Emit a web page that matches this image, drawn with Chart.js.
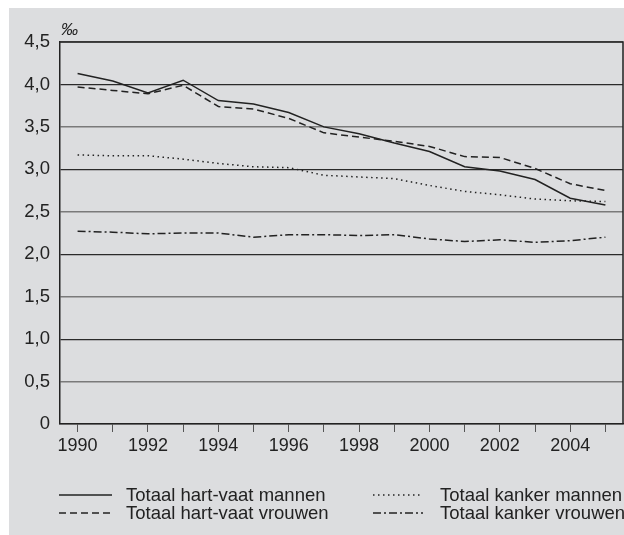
<!DOCTYPE html>
<html>
<head>
<meta charset="utf-8">
<script src="https://cdn.jsdelivr.net/npm/chart.js@4"></script>
<style>
    html, body { margin: 0; padding: 0; background: #fff; }
    #wrap { position: absolute; left: 9px; top: 8px; width: 615px; height: 527px; background: #dcdddf; }
    canvas { display: block; }
</style>
</head>
<body>
<div id="wrap"><canvas id="chart" width="615" height="527"></canvas></div>
<script>
// jaren op de x-as
var years = ["1990", "1991", "1992", "1993", "1994", "1995", "1996", "1997",
    "1998", "1999", "2000", "2001", "2002", "2003", "2004", "2005"];

// sterfte in promille
var hartVaatMannen = [4.13, 4.04, 3.90, 4.05, 3.81, 3.77, 3.67, 3.50,
    3.42, 3.31, 3.21, 3.03, 2.98, 2.88, 2.66, 2.58];
var hartVaatVrouwen = [3.97, 3.93, 3.89, 3.99, 3.74, 3.71, 3.60, 3.43,
    3.38, 3.33, 3.27, 3.15, 3.14, 3.01, 2.83, 2.75];
var kankerMannen = [3.17, 3.16, 3.16, 3.12, 3.07, 3.03, 3.02, 2.93,
    2.91, 2.89, 2.81, 2.74, 2.70, 2.65, 2.63, 2.62];
var kankerVrouwen = [2.27, 2.26, 2.24, 2.25, 2.25, 2.20, 2.23, 2.23,
    2.22, 2.23, 2.18, 2.15, 2.17, 2.14, 2.16, 2.20];

var seriesNames = ["Totaal hart-vaat mannen", "Totaal hart-vaat vrouwen",
    "Totaal kanker mannen", "Totaal kanker vrouwen"];

var ink = "#222";
var font = "'Liberation Sans', Arial, sans-serif";

function line(label, data, dash) {
    return {
        label: label,
        data: data,
        borderColor: ink,
        borderWidth: 1.5,
        borderDash: dash,
        pointRadius: 0,
        tension: 0,
        fill: false
    };
}

// rand om het plotgebied, ‰-teken en legenda onderaan
var extras = {
    id: "extras",
    afterDraw(chart) {
        var ctx = chart.ctx;
        var a = chart.chartArea;
        ctx.save();
        ctx.strokeStyle = ink;
        ctx.lineWidth = 1.5;
        ctx.beginPath();
        ctx.moveTo(a.left, a.top);
        ctx.lineTo(a.right, a.top);
        ctx.lineTo(a.right, a.bottom);
        ctx.stroke();

        ctx.fillStyle = ink;
        ctx.font = "italic 17px " + font;
        ctx.textBaseline = "alphabetic";
        ctx.fillText("‰", a.left + 1, a.top - 7);

        var slots = [
            { x0: 50, x1: 103, tx: 117, y: 487 },
            { x0: 50, x1: 103, tx: 117, y: 505 },
            { x0: 364, x1: 414, tx: 431, y: 487 },
            { x0: 364, x1: 414, tx: 431, y: 505 }
        ];
        ctx.font = "18.5px " + font;
        ctx.textBaseline = "middle";
        chart.data.datasets.forEach((ds, i) => {
            var s = slots[i];
            ctx.setLineDash(ds.borderDash || []);
            ctx.lineWidth = 1.5;
            ctx.beginPath();
            ctx.moveTo(s.x0, s.y);
            ctx.lineTo(s.x1, s.y);
            ctx.stroke();
            ctx.setLineDash([]);
            ctx.fillText(ds.label, s.tx, s.y + 1);
        });
        ctx.restore();
    }
};

new Chart(document.getElementById("chart"), {
    type: "line",
    data: {
        labels: years,
        datasets: [
            line(seriesNames[0], hartVaatMannen, []),
            line(seriesNames[1], hartVaatVrouwen, [7, 4]),
            line(seriesNames[2], kankerMannen, [1.5, 3.5]),
            line(seriesNames[3], kankerVrouwen, [8, 3, 2, 3])
        ]
    },
    options: {
        responsive: false,
        animation: false,
        layout: { padding: { left: 0, top: 34, right: 1, bottom: 81 } },
        plugins: {
            legend: { display: false },
            tooltip: { enabled: false }
        },
        scales: {
            x: {
                offset: true,
                grid: {
                    offset: false,
                    drawOnChartArea: false,
                    drawTicks: true,
                    tickLength: 8,
                    color: "#555"
                },
                border: { color: ink, width: 1.5 },
                ticks: {
                    autoSkip: false,
                    maxRotation: 0,
                    padding: 3,
                    color: ink,
                    font: { family: font, size: 18 },
                    callback: (v, i) => i % 2 === 0 ? years[i] : ""
                },
                afterFit: s => { s.height = 30; }
            },
            y: {
                min: 0,
                max: 4.5,
                grid: {
                    drawTicks: false,
                    lineWidth: c => c.tick && c.tick.value % 1 === 0 ? 1.2 : 1.5,
                    color: c => c.tick && c.tick.value % 1 === 0 ? "#2a2a2a" : "#7a7a7a"
                },
                border: { color: ink, width: 1.5 },
                ticks: {
                    stepSize: 0.5,
                    padding: 10,
                    color: ink,
                    font: { family: font, size: 18.5 },
                    callback: v => v === 0 ? "0" : v.toFixed(1).replace(".", ",")
                },
                afterFit: s => { s.width = 51; }
            }
        }
    },
    plugins: [extras]
});
</script>
</body>
</html>
